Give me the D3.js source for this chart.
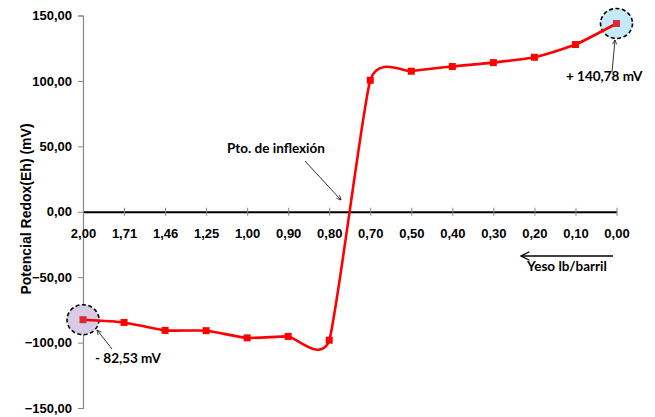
<!DOCTYPE html>
<html><head><meta charset="utf-8">
<script src="https://cdn.jsdelivr.net/npm/d3@7"></script>
<style>
body{margin:0;background:#fff;}
svg{display:block;}
</style></head>
<body>
<svg id="c" width="655" height="417"></svg>
<script>
const categories = ["2,00","1,71","1,46","1,25","1,00","0,90","0,80","0,70","0,50","0,40","0,30","0,20","0,10","0,00"];
const values = [-82.53,-84.6,-90.7,-90.9,-96.4,-95.3,-98.2,100.5,107.4,111.0,114.0,118.1,127.8,143.9];
const yTicks = [-150,-100,-50,0,50,100,150];
const yTitle = "Potencial Redox(Eh)  (mV)";
const xTitle = "Yeso lb/barril";
const inflexLabel = "Pto. de inflexión";
const minLabel = "- 82,53 mV";
const maxLabel = "+ 140,78 mV";

const svg = d3.select("#c");
const x = d3.scalePoint().domain(categories).range([83,616.5]);
const y = d3.scaleLinear().domain([-150,150]).range([408,15.5]);
const fmt = v => d3.format(".2f")(v).replace(".",",");

// y axis
const ya = svg.append("g").attr("transform","translate(83,0)")
  .call(d3.axisLeft(y).tickValues(yTicks).tickFormat(fmt).tickSize(5).tickPadding(6));
ya.select(".domain").attr("stroke","#868686").attr("stroke-width",1.2);
ya.selectAll(".tick line").attr("stroke","#868686");
ya.selectAll(".tick text").attr("font-family","Liberation Sans, Arial, sans-serif")
  .attr("font-weight","bold").attr("font-size",13).attr("fill","#000");

// x axis at zero
const xa = svg.append("g").attr("transform",`translate(0,${y(0)})`)
  .call(d3.axisBottom(x).tickSize(0).tickPadding(17));
xa.select(".domain").attr("stroke","#000").attr("stroke-width",2.2);
xa.selectAll(".tick text").attr("font-family","Liberation Sans, Arial, sans-serif")
  .attr("font-weight","bold").attr("font-size",13).attr("fill","#000");
xa.selectAll(".tick").append("line").attr("y1",-4).attr("y2",4).attr("stroke","#868686").attr("stroke-width",1);

// y title
svg.append("text").attr("transform",`translate(26,209) rotate(-90)`)
  .attr("text-anchor","middle").attr("dominant-baseline","central").attr("font-family","Liberation Sans, Arial, sans-serif")
  .attr("font-weight","bold").attr("font-size",14).text(yTitle);

// highlight ellipses
const n = categories.length;
svg.append("ellipse").attr("cx",x(categories[0])).attr("cy",y(values[0])).attr("rx",16).attr("ry",15)
  .attr("fill","#d8cce4").attr("stroke","#000").attr("stroke-width",1.6).attr("stroke-dasharray","4,2.5");
svg.append("ellipse").attr("cx",x(categories[n-1])).attr("cy",y(values[n-1])).attr("rx",16).attr("ry",15)
  .attr("fill","#c5e9f6").attr("stroke","#000").attr("stroke-width",1.6).attr("stroke-dasharray","4,2.5");

// line
const line = d3.line().x((d,i)=>x(categories[i])).y(d=>y(d)).curve(d3.curveCardinal.tension(0.45));
svg.append("path").datum(values).attr("d",line).attr("fill","none").attr("stroke","#ff0000").attr("stroke-width",2.6);
svg.selectAll("rect.m").data(values).enter().append("rect").attr("class","m")
  .attr("x",(d,i)=>x(categories[i])-3.5).attr("y",d=>y(d)-3.5).attr("width",7).attr("height",7)
  .attr("fill",(d,i)=> (i===0||i===n-1) ? "#d9283c" : "#ff0000");

// arrows
const defs = svg.append("defs");
defs.append("marker").attr("id","ah").attr("viewBox","0 0 10 10").attr("refX",9).attr("refY",5)
  .attr("markerWidth",7).attr("markerHeight",7).attr("orient","auto-start-reverse")
  .append("path").attr("d","M1,1 L9,5 L1,9").attr("fill","none").attr("stroke","#000").attr("stroke-width",1.2);
function arrow(x1,y1,x2,y2,w){
  svg.append("line").attr("x1",x1).attr("y1",y1).attr("x2",x2).attr("y2",y2)
    .attr("stroke","#000").attr("stroke-width",w||0.8).attr("marker-end","url(#ah)");
}
const af = "Lato, 'Open Sans', sans-serif";
function label(t,xx,yy){
  svg.append("text").attr("x",xx).attr("y",yy).attr("font-family",af).attr("font-weight","bold")
    .attr("font-size",13.5).attr("fill","#000").text(t);
}
label(inflexLabel,227,153);
arrow(305,161,341,200);
label(minLabel,95,363);
arrow(112,349,97,330);
label(maxLabel,566,81);
arrow(612,72,615,40);
label(xTitle,527,271);
arrow(613,256,521,256,1.5);
</script>
</body></html>
